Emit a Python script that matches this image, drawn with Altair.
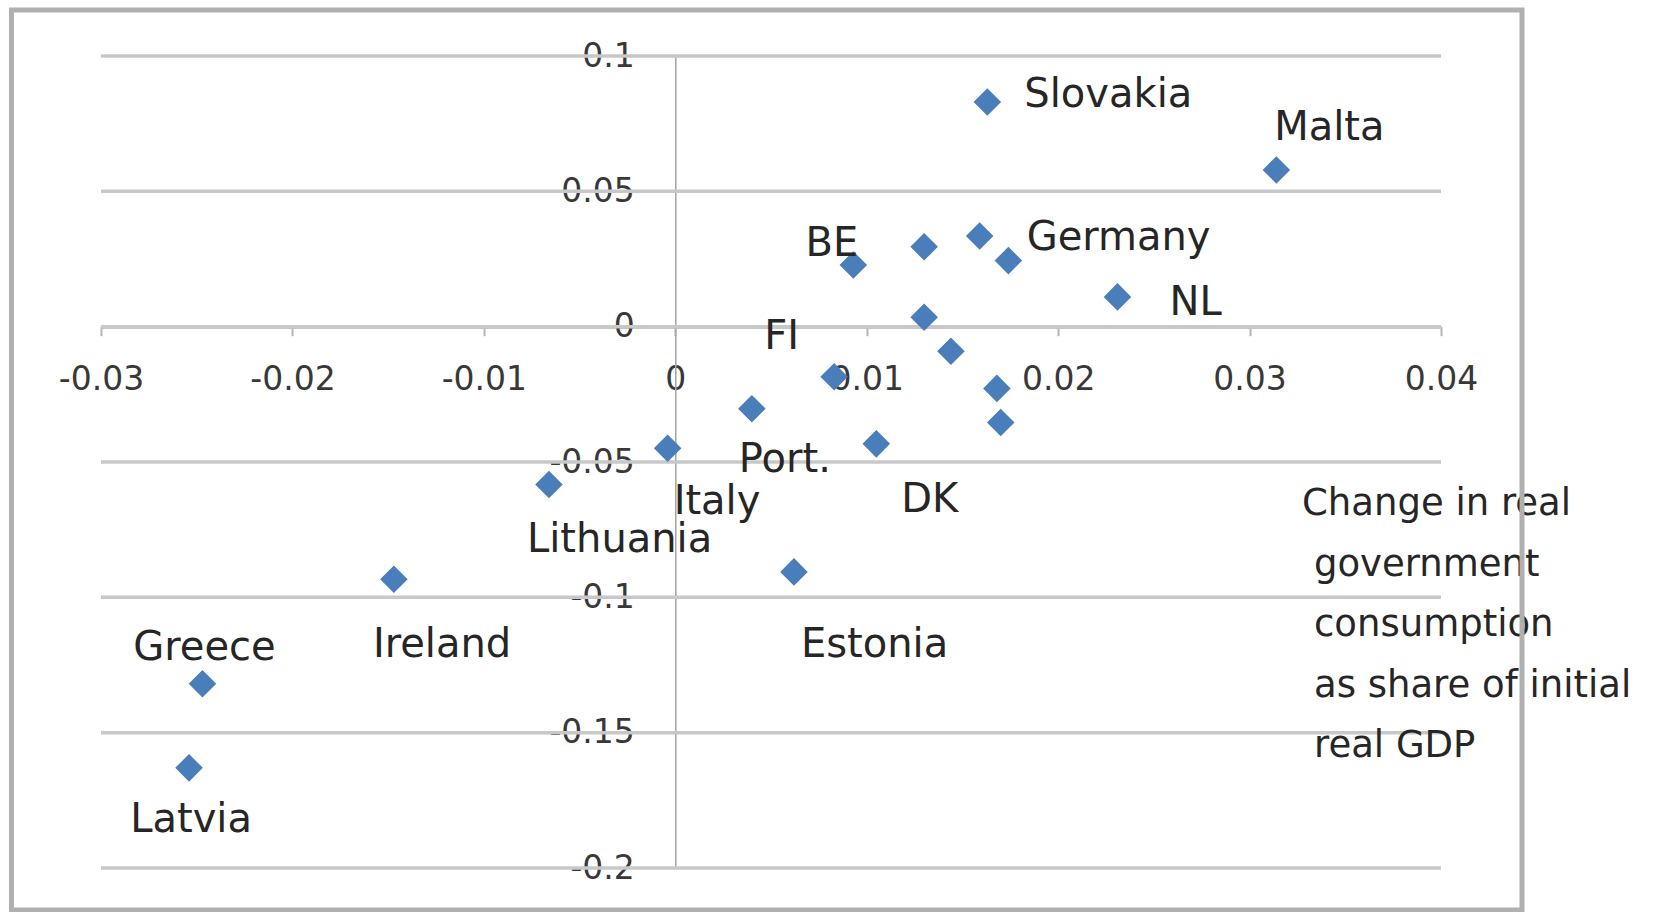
import altair as alt
import pandas as pd

# Fiscal consolidation vs. change in real government consumption, by country
NAMES = ["Slovakia", "Malta", "BE", "", "Germany", "", "NL", "", "", "FI",
         "", "Port.", "", "DK", "Italy", "Lithuania", "Estonia", "Ireland",
         "Greece", "Latvia"]
X_VALS = [0.0163, 0.0314, 0.0093, 0.0130, 0.0159, 0.0174, 0.0231, 0.0130,
          0.0144, 0.0083, 0.0168, 0.0040, 0.0170, 0.0105, -0.0004, -0.0066,
          0.0062, -0.0147, -0.0247, -0.0254]
Y_VALS = [0.0830, 0.0579, 0.0228, 0.0295, 0.0335, 0.0244, 0.0110, 0.0035,
          -0.0091, -0.0185, -0.0228, -0.0303, -0.0354, -0.0433, -0.0449,
          -0.0583, -0.0906, -0.0933, -0.1319, -0.1630]

X_TICKS = [-0.03, -0.02, -0.01, 0, 0.01, 0.02, 0.03, 0.04]
Y_TICKS = [0.1, 0.05, 0, -0.05, -0.1, -0.15, -0.2]

NOTE_HEAD = "Change in real"
NOTE_REST = ["government", "consumption", "as share of initial", "real GDP"]

W, H = 1340, 812
FONT = "DejaVu Sans"
BLUE = "#4A7EBB"
INK = "#262626"

df = pd.DataFrame({"name": NAMES, "x": X_VALS, "y": Y_VALS})
grid_df = pd.DataFrame({"y": Y_TICKS})

xs = alt.Scale(domain=[X_TICKS[0], X_TICKS[-1]], nice=False, zero=False)
ys = alt.Scale(domain=[Y_TICKS[-1], Y_TICKS[0]], nice=False, zero=False)

# axes cross at the origin, Excel style
x_zero_px = W * (0 - X_TICKS[0]) / (X_TICKS[-1] - X_TICKS[0])
y_zero_px = H * (Y_TICKS[0] - 0) / (Y_TICKS[0] - Y_TICKS[-1])

x_axis = alt.Axis(
    values=X_TICKS, orient="bottom", offset=-(H - y_zero_px), title=None,
    grid=False, domain=True, domainColor="#c4c4c4", domainWidth=3.5,
    ticks=True, tickColor="#b4b4b4", tickWidth=2, tickSize=9,
    labelExpr="'' + datum.value", labelFont=FONT, labelFontSize=33,
    labelColor="#383838", labelPadding=44, labelBaseline="middle",
    labelFlush=False, labelOverlap=False, labelBound=False,
)
y_axis = alt.Axis(
    values=Y_TICKS, orient="left", offset=-x_zero_px, title=None,
    grid=False, domain=True, domainColor="#a8a8a8", domainWidth=1.6,
    ticks=False, labelExpr="'' + datum.value", labelFont=FONT,
    labelFontSize=33, labelColor="#383838", labelPadding=41,
    labelBaseline="middle", labelFlush=False, labelOverlap=False,
    labelBound=False,
)

gridlines = alt.Chart(grid_df).mark_rule(color="#c8c8c8", strokeWidth=3.5).encode(
    y=alt.Y("y:Q", scale=ys, axis=y_axis)
)

points = alt.Chart(df).mark_point(
    shape="diamond", filled=True, size=760, color=BLUE, opacity=1
).encode(
    x=alt.X("x:Q", scale=xs, axis=x_axis),
    y=alt.Y("y:Q", scale=ys),
)

# label placement per country: (align, dx, dy)
PLACEMENT = {
    "Slovakia": ("left", 37, -7),
    "Malta": ("center", 53, -42),
    "BE": ("right", 5, -21),
    "Germany": ("left", 47, 2),
    "NL": ("left", 52, 6),
    "FI": ("right", -35, -40),
    "Port.": ("left", -13, 51),
    "DK": ("left", 25, 56),
    "Italy": ("left", 6, 54),
    "Lithuania": ("left", -22, 56),
    "Estonia": ("left", 7, 73),
    "Ireland": ("left", -21, 66),
    "Greece": ("center", 2, -36),
    "Latvia": ("center", 2, 52),
}

label_layers = []
for name, (align, dx, dy) in PLACEMENT.items():
    label_layers.append(
        alt.Chart(df).transform_filter(alt.datum.name == name).mark_text(
            font=FONT, fontSize=40, color=INK, align=align,
            baseline="middle", dx=dx, dy=dy,
        ).encode(
            x=alt.X("x:Q", scale=xs),
            y=alt.Y("y:Q", scale=ys),
            text="name:N",
        )
    )

# axis note at the right: first line flush, continuation lines indented
note_style = dict(font=FONT, fontSize=37, color=INK, align="left",
                  baseline="alphabetic", lineHeight=60.5)
note_head = alt.Chart(pd.DataFrame({"t": [NOTE_HEAD]})).mark_text(
    **note_style
).encode(x=alt.value(1201), y=alt.value(459), text="t")
note_rest = alt.Chart(pd.DataFrame({"t": [NOTE_REST]})).mark_text(
    **note_style
).encode(x=alt.value(1213), y=alt.value(519.5), text="t")

# outer chart-area frame
frame = alt.Chart(pd.DataFrame({"k": [0]})).mark_rect(
    fillOpacity=0, stroke="#b0b0b0", strokeWidth=5
).encode(
    x=alt.value(-89.5), x2=alt.value(1421), y=alt.value(-46), y2=alt.value(854)
)

chart = alt.layer(
    gridlines, points, *label_layers, note_head, note_rest, frame
).properties(
    width=W, height=H,
    autosize=alt.AutoSizeParams(type="none"),
    padding={"left": 101, "top": 56, "right": 230, "bottom": 44},
    background="white",
).configure_view(stroke=None)

chart.save("out.html", embed_options={"renderer": "svg", "actions": False})
